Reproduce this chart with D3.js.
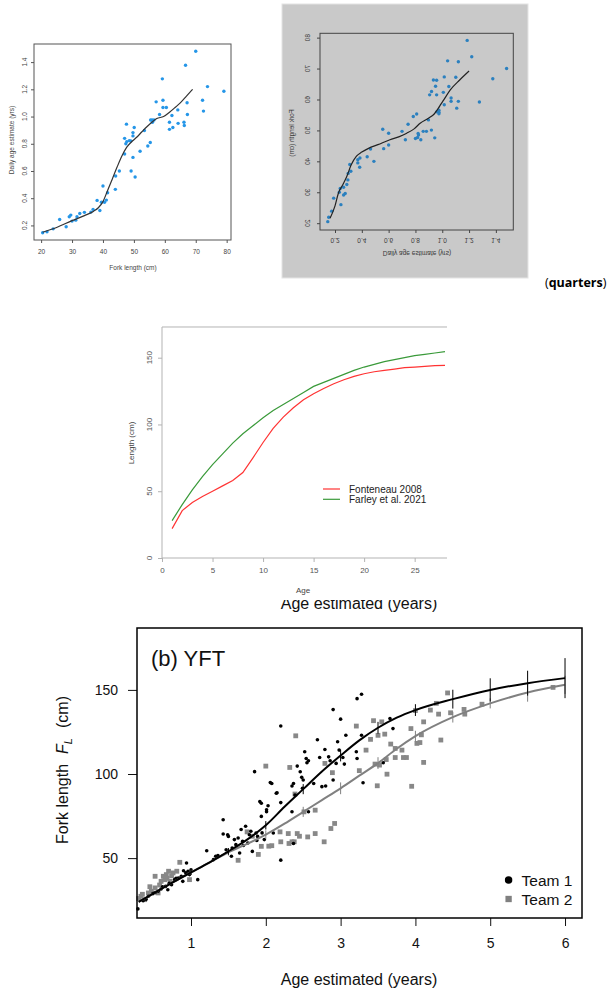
<!DOCTYPE html>
<html>
<head>
<meta charset="utf-8">
<script src="https://cdn.jsdelivr.net/npm/d3@7"></script>
<style>
  body { margin: 0; background: #fff; }
  svg { display: block; font-family: "Liberation Sans", Arial, Helvetica, sans-serif; }
</style>
</head>
<body>
<div id="chart"></div>
<script>
// ---- top panels: daily age vs fork length (same fish, axes swapped on the right)
var forkLength = [20.5,21.9,23.9,26.0,28.1,29.1,29.6,30.0,31.2,31.6,32.5,34.0,36.1,36.8,38.1,39.0,40.0,39.5,40.5,41.1,
  41.5,44.0,44.1,45.3,47.0,47.0,47.4,47.6,47.7,48.5,49.0,49.1,49.7,49.7,49.7,50.1,50.4,52.0,53.4,54.5,
  55.3,55.4,55.9,56.5,56.0,57.2,58.3,59.2,59.4,59.4,60.5,61.5,61.5,62.3,62.6,64.2,64.3,66.2,66.3,66.7,
  67.2,67.3,70.0,72.2,72.5,73.8,79.1];
var dailyAge = [0.146,0.153,0.175,0.244,0.19,0.264,0.276,0.232,0.239,0.264,0.288,0.296,0.298,0.318,0.384,0.31,0.49,0.37,0.37,0.386,
  0.44,0.465,0.563,0.60,0.725,0.84,0.80,0.944,0.816,0.823,0.82,0.60,0.882,0.858,0.70,0.919,0.556,0.745,0.897,0.784,
  0.809,0.975,0.975,0.975,0.958,1.108,1.015,1.277,1.12,1.066,1.066,0.958,0.906,1.008,0.92,1.049,0.95,0.958,0.934,1.377,
  1.101,1.015,1.48,1.12,1.04,1.22,1.186];
// smoother on the left plot (age as a function of length)
var smoothFL  = [20.5,25,30,34,37,38.5,40,41.3,43,44.5,46,47.7,49.5,51,52.6,54.2,55.8,57.4,59.6,61.7,63.5,65,67,69];
var smoothAge = [0.15,0.185,0.235,0.272,0.305,0.33,0.375,0.445,0.54,0.625,0.705,0.775,0.82,0.85,0.888,0.925,0.958,0.985,1.0,1.035,1.07,1.1,1.15,1.2];
// smoother on the right plot (length as a function of age)
var invAge = [0.163,0.2,0.225,0.26,0.287,0.32,0.36,0.40,0.45,0.52,0.61,0.68,0.735,0.79,0.835,0.9,0.94,0.97,0.99,1.01,1.06,1.13,1.2];
var invFL  = [21.6,25.6,29.7,32.6,35.0,38.8,41.7,43.0,44.2,45.4,47.0,48.0,49.1,50.5,52.3,54.0,55.3,57.1,58.5,59.8,63.1,66.3,69.2];
var tlXTicks = [20,30,40,50,60,70,80],
    tlYTicks = [0.2,0.4,0.6,0.8,1.0,1.2,1.4],
    trYTicks = [20,30,40,50,60,70,80];

// ---- middle panel: growth curves
var ageYears  = [1,2,3,4,5,6,7,8,9,10,11,12,13,14,15,16,17,18,19,20,21,22,23,24,25,26,27,28];
var fonteneau = [22,35.5,41.5,46,50,54,58,64,75,86.5,97,105.5,112.5,118.5,123,127,130.5,133.5,136,138,139.5,140.5,141.5,142.5,143,143.5,144,144.3];
var farley    = [28,40,51,61,70,78,86,93,99,105,110.5,115,119.5,124,128.5,131.5,134.5,137.5,140.5,143,145,147,148.5,150,151.5,152.5,153.5,154.5];
var midXTicks = [0,5,10,15,20,25],
    midYTicks = [0,50,100,150];
var midSeries = ["Fonteneau 2008", "Farley et al. 2021"];

// ---- bottom panel: (b) YFT
var team1Points = [[0.29,19.8],[0.36,24.7],[0.40,25.5],[0.43,27.3],[0.49,28.9],[0.52,29.5],[0.56,30.3],[0.60,31.6],[0.62,33],[0.66,33.2],
  [0.69,31.2],[0.71,35],[0.74,34.2],[0.78,37.2],[0.80,38],[0.83,38.2],[0.87,39.2],[0.89,36.2],[0.90,42.5],[0.93,41.2],
  [0.94,47.1],[0.96,42.2],[0.98,40.2],[1.0,43],[1.09,37.2],[1.21,54.4],[1.30,49.1],[1.33,51.1],[1.36,51.5],[1.43,72.8],
  [1.43,64.3],[1.47,55],[1.49,63.9],[1.50,62.9],[1.54,51.1],[1.55,56],[1.58,61],[1.60,58],[1.63,62],[1.65,53],
  [1.67,67],[1.69,60],[1.70,57.5],[1.73,68.9],[1.76,59],[1.78,63.9],[1.80,66],[1.82,54],[1.85,101.4],[1.87,64.9],
  [1.88,60.5],[1.89,62.9],[1.92,83.6],[1.94,74.8],[1.94,82.6],[1.95,65],[1.98,61],[2.01,78.7],[2.01,77.6],[2.03,81.1],
  [2.06,94.9],[2.08,94.4],[2.10,64.9],[2.14,88.6],[2.15,88.9],[2.20,48.8],[2.20,128.5],[2.20,83],[2.35,92.9],[2.35,77.6],
  [2.37,94.4],[2.37,58.7],[2.39,87.5],[2.42,104.7],[2.46,101.3],[2.48,98],[2.49,91.5],[2.50,96.4],[2.52,113.2],[2.54,109.2],
  [2.55,106.7],[2.57,107.9],[2.57,77.6],[2.64,94.4],[2.69,120.4],[2.72,109.8],[2.75,92.5],[2.79,114.6],[2.80,92.9],[2.84,110.2],
  [2.86,107.9],[2.90,138.3],[2.90,96.4],[2.94,106.3],[2.96,119.2],[2.98,114.2],[3.00,132.6],[3.03,109.8],[3.05,105.9],[3.07,123],
  [3.21,113.2],[3.22,109.2],[3.22,144.8],[3.28,147.4],[3.28,123],[3.30,94.8],[3.57,106.7],[3.66,133],[3.70,127]];
var team2Points = [[0.30,26],[0.33,27.3],[0.35,28.5],[0.38,25.3],[0.43,29.3],[0.45,33],[0.47,30.3],[0.52,32.3],[0.52,39.2],[0.56,29.3],
  [0.58,34],[0.60,36.2],[0.63,39.2],[0.65,37.2],[0.67,40.2],[0.68,38],[0.70,42.2],[0.72,36.2],[0.74,39.5],[0.76,41.2],
  [0.81,42.2],[0.85,47.5],[0.98,37.2],[1.63,48.7],[1.75,65.6],[1.82,63],[1.90,52.2],[1.94,57],[2.00,104.7],[2.04,57.1],
  [2.08,57.4],[2.19,65.6],[2.20,59.7],[2.30,64.6],[2.31,58.7],[2.32,103.9],[2.35,59.7],[2.38,59.7],[2.39,88.1],[2.40,122.7],
  [2.42,64.6],[2.45,63],[2.51,77.5],[2.56,62.6],[2.66,64.6],[2.66,78.5],[2.78,59.7],[2.79,106.3],[2.87,67.6],[2.89,100.8],
  [2.92,70.6],[3.21,128.5],[3.25,102],[3.34,114.2],[3.40,120.6],[3.44,131.7],[3.46,105.9],[3.49,93],[3.50,123],[3.52,105.3],
  [3.55,131],[3.59,123.7],[3.61,108.6],[3.62,99.9],[3.67,117.8],[3.73,115.2],[3.73,109.8],[3.82,114.2],[3.84,109.8],[3.88,109.8],
  [3.94,127],[3.95,92.7],[4.00,137.7],[4.02,118.2],[4.06,118.7],[4.08,123.3],[4.11,106.9],[4.11,131],[4.20,138],[4.28,142],
  [4.31,135.6],[4.34,120.2],[4.43,148.2],[4.47,136.4],[4.65,138.4],[4.66,135.6],[4.89,141.5],[5.84,151.5]];
var fitAge = [0.3,0.5,0.75,1,1.25,1.5,1.75,2,2.25,2.5,2.75,3,3.25,3.5,3.75,4,4.5,5,5.5,6];
var fitTeam1 = [24,29,35.5,41.5,47.5,54,61,69.5,80.5,91,101.5,111,120,127.5,133.5,138,144.5,150,154,157];
var fitTeam2 = [24,29,35.5,41.5,47.5,53.5,58.5,64,70.5,77.5,84.5,91.5,99,106.5,115,122.5,133.8,142,148.4,153];
var ciAge   = [0.5,1,1.5,2,2.5,3,3.5,4,4.5,5,5.5,6];
var ciTeam1 = [1,1.5,2,2.5,3,3.5,3.5,3.5,5.6,6.9,7.4,11.9];
var ciTeam2 = [1,1.5,2,2.5,3,3.5,3.5,3.2,3.2,3,5.4,5.4];
var botXTicks = [1,2,3,4,5,6],
    botYTicks = [50,100,150];
var teams = ["Team 1", "Team 2"];

var svg = d3.select("#chart").append("svg")
    .attr("width", 612)
    .attr("height", 993);

function dropDomain(g) { g.select(".domain").remove(); }

// ================= top left =================
var tl = svg.append("g");
var tlX = d3.scaleLinear().domain([17.7, 81.4]).range([34, 231]),
    tlY = d3.scaleLinear().domain([0.093, 1.533]).range([240, 44]);

tl.append("g")
    .attr("transform", "translate(0,240)")
    .call(d3.axisBottom(tlX).tickValues(tlXTicks).tickSize(3).tickPadding(6))
    .call(dropDomain)
    .call(function(g) {
      g.selectAll("line").attr("stroke", "#555");
      g.selectAll("text").attr("font-size", 6.5).attr("fill", "#444").attr("font-family", null);
    });
tl.append("g")
    .attr("transform", "translate(34,0)")
    .call(d3.axisLeft(tlY).tickValues(tlYTicks).tickSize(3).tickFormat(""))
    .call(dropDomain)
    .selectAll("line").attr("stroke", "#555");
tl.selectAll(".tlylab")
    .data(tlYTicks)
    .enter().append("text")
      .attr("transform", function(d) { return "translate(25," + tlY(d) + ") rotate(-90)"; })
      .attr("text-anchor", "middle")
      .attr("dy", "0.35em")
      .attr("font-size", 6.5)
      .attr("fill", "#444")
      .text(function(d) { return d.toFixed(1); });
tl.append("rect")
    .attr("x", 34).attr("y", 44).attr("width", 197).attr("height", 196)
    .attr("fill", "none").attr("stroke", "#555");
tl.selectAll(".tldot")
    .data(forkLength)
    .enter().append("circle")
      .attr("cx", function(d) { return tlX(d); })
      .attr("cy", function(d, i) { return tlY(dailyAge[i]); })
      .attr("r", 1.7)
      .attr("fill", "#2596e8");
tl.append("path")
    .datum(smoothFL)
    .attr("fill", "none")
    .attr("stroke", "#333")
    .attr("stroke-width", 1.2)
    .attr("d", d3.line()
      .x(function(d) { return tlX(d); })
      .y(function(d, i) { return tlY(smoothAge[i]); })
      .curve(d3.curveMonotoneX));
tl.append("text")
    .attr("x", 133).attr("y", 268).attr("dy", "0.35em")
    .attr("text-anchor", "middle").attr("font-size", 6.5).attr("fill", "#444")
    .text("Fork length (cm)");
tl.append("text")
    .attr("transform", "translate(12,140) rotate(-90)").attr("dy", "0.35em")
    .attr("text-anchor", "middle").attr("font-size", 6.5).attr("fill", "#444")
    .text("Daily age estimate (yrs)");

// ================= top right (upside-down text, grey backdrop) =================
var tr = svg.append("g");
tr.append("rect")
    .attr("x", 282).attr("y", 4).attr("width", 246).attr("height", 274)
    .attr("fill", "#c9c9c9").attr("stroke", "#e4e4e4");
var trX = d3.scaleLinear().domain([0.088, 1.53]).range([320, 513.3]),
    trY = d3.scaleLinear().domain([17.8, 81.4]).range([230, 33.3]);

function flippedText(x, y, rot, str) {
  tr.append("text")
      .attr("transform", "translate(" + x + "," + y + ") scale(1,-1)" + (rot ? " rotate(-90)" : ""))
      .attr("text-anchor", "middle")
      .attr("dy", "0.35em")
      .attr("font-size", 6.5)
      .attr("fill", "#3a3a3a")
      .text(str);
}

tr.append("g")
    .attr("transform", "translate(0,230)")
    .call(d3.axisBottom(trX).tickValues(tlYTicks).tickSize(3).tickFormat(""))
    .call(dropDomain)
    .selectAll("line").attr("stroke", "#444");
tr.append("g")
    .attr("transform", "translate(320,0)")
    .call(d3.axisLeft(trY).tickValues(trYTicks).tickSize(3).tickFormat(""))
    .call(dropDomain)
    .selectAll("line").attr("stroke", "#444");
tlYTicks.forEach(function(d) { flippedText(trX(d), 240, false, d.toFixed(1)); });
trYTicks.forEach(function(d) { flippedText(308, trY(d), true, String(d)); });
flippedText(417, 253, false, "Daily age estimate (yrs)");
flippedText(292, 133, true, "Fork length (cm)");
tr.append("rect")
    .attr("x", 320).attr("y", 33.3).attr("width", 193.3).attr("height", 196.7)
    .attr("fill", "none").attr("stroke", "#444");
tr.selectAll(".trdot")
    .data(dailyAge)
    .enter().append("circle")
      .attr("cx", function(d) { return trX(d); })
      .attr("cy", function(d, i) { return trY(forkLength[i]); })
      .attr("r", 1.7)
      .attr("fill", "#2b80bf");
tr.append("path")
    .datum(invAge)
    .attr("fill", "none")
    .attr("stroke", "#222")
    .attr("stroke-width", 1.2)
    .attr("d", d3.line()
      .x(function(d) { return trX(d); })
      .y(function(d, i) { return trY(invFL[i]); })
      .curve(d3.curveMonotoneX));

svg.append("text")
    .attr("x", 545).attr("y", 287)
    .attr("font-family", "'Open Sans', 'Noto Sans', sans-serif")
    .attr("font-size", 12.5)
    .call(function(t) {
      t.append("tspan").text("(");
      t.append("tspan").attr("font-weight", "bold").text("quarters");
      t.append("tspan").text(")");
    });

// axis title of a panel hidden underneath the middle image
svg.append("text")
    .attr("x", 359).attr("y", 608.5)
    .attr("text-anchor", "middle")
    .attr("font-size", 16)
    .attr("fill", "#111")
    .text("Age estimated (years)");

// ================= middle =================
var md = svg.append("g");
md.append("rect")
    .attr("x", 128).attr("y", 300).attr("width", 319).attr("height", 300)
    .attr("fill", "#fff");
var mx = d3.scaleLinear().domain([0, 28.2]).range([162, 447]),
    my = d3.scaleLinear().domain([0, 150]).range([558, 357.7]);
var frameGrey = "#b3b3b3";

md.append("g")
    .attr("transform", "translate(0,558)")
    .call(d3.axisBottom(mx).tickValues(midXTicks).tickSize(4).tickPadding(5))
    .call(dropDomain)
    .call(function(g) {
      g.selectAll("line").attr("stroke", frameGrey);
      g.selectAll("text").attr("font-size", 8).attr("fill", "#555").attr("font-family", null);
    });
md.append("g")
    .attr("transform", "translate(162,0)")
    .call(d3.axisLeft(my).tickValues(midYTicks).tickSize(4).tickFormat(""))
    .call(dropDomain)
    .selectAll("line").attr("stroke", frameGrey);
md.selectAll(".mylab")
    .data(midYTicks)
    .enter().append("text")
      .attr("transform", function(d) { return "translate(149," + my(d) + ") rotate(-90)"; })
      .attr("text-anchor", "middle")
      .attr("dy", "0.35em")
      .attr("font-size", 8)
      .attr("fill", "#555")
      .text(function(d) { return d; });
md.append("path")
    .attr("d", "M447," + my(173) + "H162V558H447")
    .attr("fill", "none")
    .attr("stroke", frameGrey);

var midLine = d3.line()
    .x(function(d) { return mx(d[0]); })
    .y(function(d) { return my(d[1]); });
var midColors = ["#ff3333", "#3a9a3a"];
[fonteneau, farley].forEach(function(s, k) {
  md.append("path")
      .datum(ageYears.map(function(a, i) { return [a, s[i]]; }))
      .attr("fill", "none")
      .attr("stroke", midColors[k])
      .attr("stroke-width", 1.2)
      .attr("d", midLine);
});
var midLegend = md.selectAll(".midleg")
    .data(midSeries)
    .enter().append("g")
      .attr("transform", function(d, i) { return "translate(323," + (489 + i * 10.3) + ")"; });
midLegend.append("line")
    .attr("x1", 0).attr("x2", 17)
    .attr("stroke", function(d, i) { return midColors[i]; })
    .attr("stroke-width", 1.2);
midLegend.append("text")
    .attr("x", 26).attr("dy", "0.35em")
    .attr("font-size", 10)
    .attr("fill", "#222")
    .text(function(d) { return d; });
md.append("text")
    .attr("x", 303).attr("y", 590).attr("dy", "0.35em")
    .attr("text-anchor", "middle").attr("font-size", 8).attr("fill", "#444")
    .text("Age");
md.append("text")
    .attr("transform", "translate(131,443) rotate(-90)").attr("dy", "0.35em")
    .attr("text-anchor", "middle").attr("font-size", 8).attr("fill", "#444")
    .text("Length (cm)");

// ================= bottom: (b) YFT =================
var bt = svg.append("g");
var bx = d3.scaleLinear().domain([0.278, 6.227]).range([137, 582]),
    by = d3.scaleLinear().domain([14.4, 186.8]).range([918, 628]);

bt.append("g")
    .attr("transform", "translate(0,918)")
    .call(d3.axisBottom(bx).tickValues(botXTicks).tickFormat(d3.format("d")).tickSize(8).tickPadding(12))
    .call(dropDomain)
    .call(function(g) {
      g.selectAll("line").attr("stroke", "#111");
      g.selectAll("text").attr("font-size", 14).attr("fill", "#111").attr("font-family", null);
    });
bt.append("g")
    .attr("transform", "translate(137,0)")
    .call(d3.axisLeft(by).tickValues(botYTicks).tickSize(9).tickPadding(10))
    .call(dropDomain)
    .call(function(g) {
      g.selectAll("line").attr("stroke", "#111");
      g.selectAll("text").attr("font-size", 14).attr("fill", "#111").attr("font-family", null);
    });

bt.selectAll(".sq")
    .data(team2Points)
    .enter().append("rect")
      .attr("x", function(d) { return bx(d[0]) - 2.4; })
      .attr("y", function(d) { return by(d[1]) - 2.4; })
      .attr("width", 4.8).attr("height", 4.8)
      .attr("fill", "#888");
bt.selectAll(".dot")
    .data(team1Points)
    .enter().append("circle")
      .attr("cx", function(d) { return bx(d[0]); })
      .attr("cy", function(d) { return by(d[1]); })
      .attr("r", 1.8)
      .attr("fill", "#000");

var fitLine = d3.line()
    .x(function(d) { return bx(d[0]); })
    .y(function(d) { return by(d[1]); })
    .curve(d3.curveMonotoneX);
var fitColors = ["#000", "#808080"];
[[fitTeam2, ciTeam2, 1], [fitTeam1, ciTeam1, 0]].forEach(function(f) {
  var fit = f[0], ci = f[1], col = fitColors[f[2]];
  bt.append("path")
      .datum(fitAge.map(function(a, i) { return [a, fit[i]]; }))
      .attr("fill", "none")
      .attr("stroke", col)
      .attr("stroke-width", 2)
      .attr("d", fitLine);
  bt.selectAll(".ci" + f[2])
      .data(ciAge)
      .enter().append("line")
        .attr("x1", function(d) { return bx(d); })
        .attr("x2", function(d) { return bx(d); })
        .attr("y1", function(d, i) { return by(fit[fitAge.indexOf(d)] - ci[i]); })
        .attr("y2", function(d, i) { return by(fit[fitAge.indexOf(d)] + ci[i]); })
        .attr("stroke", col)
        .attr("stroke-width", 1);
});

bt.append("rect")
    .attr("x", 137).attr("y", 628).attr("width", 445).attr("height", 290)
    .attr("fill", "none").attr("stroke", "#000").attr("stroke-width", 1.5);

bt.append("text")
    .attr("x", 151).attr("y", 666)
    .attr("font-size", 22)
    .attr("fill", "#111")
    .text("(b) YFT");

var legend = bt.selectAll(".legend")
    .data(teams)
    .enter().append("g")
      .attr("transform", function(d, i) { return "translate(508.6," + (880 + i * 19) + ")"; });
legend.append("path")
    .attr("d", function(d, i) {
      return i === 0 ? d3.symbol(d3.symbolCircle, 44)() : d3.symbol(d3.symbolSquare, 40)();
    })
    .attr("fill", function(d, i) { return fitColors[i]; });
legend.append("text")
    .attr("x", 13).attr("dy", "0.36em")
    .attr("font-size", 15.5)
    .attr("fill", "#111")
    .text(function(d) { return d; });

bt.append("text")
    .attr("x", 359).attr("y", 985)
    .attr("text-anchor", "middle")
    .attr("font-size", 16)
    .attr("fill", "#111")
    .text("Age estimated (years)");
bt.append("text")
    .attr("transform", "translate(68,770) rotate(-90)")
    .attr("text-anchor", "middle")
    .attr("font-size", 16)
    .attr("fill", "#111")
    .call(function(t) {
      t.append("tspan").text("Fork length");
      t.append("tspan").attr("dx", 10).attr("font-style", "italic").text("F");
      t.append("tspan").attr("font-style", "italic").attr("font-size", 11).attr("dy", 4).text("L");
      t.append("tspan").attr("dx", 10).attr("dy", -4).text("(cm)");
    });
</script>
</body>
</html>
